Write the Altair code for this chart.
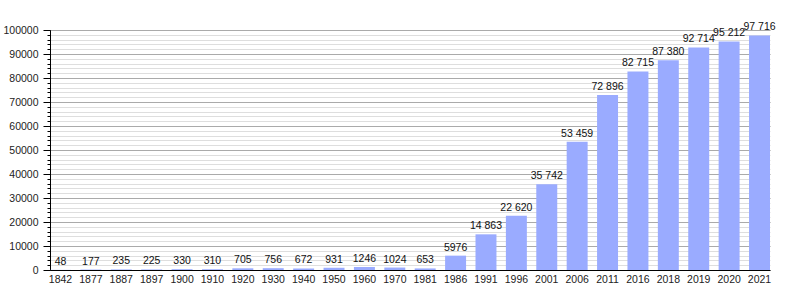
import altair as alt
import pandas as pd

years = ["1842", "1877", "1887", "1897", "1900", "1910", "1920", "1930", "1940",
         "1950", "1960", "1970", "1981", "1986", "1991", "1996", "2001", "2006",
         "2011", "2016", "2018", "2019", "2020", "2021"]
population = [48, 177, 235, 225, 330, 310, 705, 756, 672, 931, 1246, 1024, 653,
              5976, 14863, 22620, 35742, 53459, 72896, 82715, 87380, 92714,
              95212, 97716]

major_ticks = list(range(0, 100001, 10000))
minor_ticks = list(range(0, 100001, 2000))


def fmt(v):
    if v >= 10000:
        return f"{v:,}".replace(",", " ")
    return str(v)


df = pd.DataFrame({"year": years, "pop": population,
                   "label": [fmt(v) for v in population]})

FONT = "Liberation Sans"
FS = 10.5

xenc = alt.X("year:N", sort=years,
             scale=alt.Scale(paddingInner=0.31, paddingOuter=0),
             axis=alt.Axis(title=None, labelAngle=0, ticks=False,
                           labelFontSize=FS, labelColor="#222", labelFont=FONT,
                           domainColor="#000", labelPadding=4))

yscale = alt.Scale(domain=[0, 100000], nice=False)

bars = alt.Chart(df).mark_bar(color="#9aabff").encode(
    x=xenc,
    y=alt.Y("pop:Q", scale=yscale,
            axis=alt.Axis(title=None, values=minor_ticks, labels=False,
                          tickSize=3, tickColor="#000", gridColor="#dedede",
                          grid=True, domain=False, orient="left")),
)

labels = alt.Chart(df).mark_text(baseline="bottom", dy=-3, fontSize=FS,
                                  font=FONT, color="#111").encode(
    x=xenc,
    y=alt.Y("pop:Q", scale=yscale,
            axis=alt.Axis(title=None, values=major_ticks, tickSize=7,
                          format="d",
                          tickColor="#000", gridColor="#aaaaaa", grid=True,
                          domainColor="#000", labelFontSize=FS,
                          labelFont=FONT, labelColor="#222", labelPadding=5,
                          orient="left")),
    text="label:N",
)

chart = alt.layer(bars, labels).resolve_scale(y="shared").resolve_axis(
    y="independent"
).properties(
    width=720, height=240,
    autosize=alt.AutoSizeParams(type="none"),
    padding={"left": 50, "top": 30, "right": 30, "bottom": 30},
).configure_view(stroke=None).configure_axis(domainWidth=1)

chart.save("out.html", embed_options={"renderer": "svg", "actions": False})
